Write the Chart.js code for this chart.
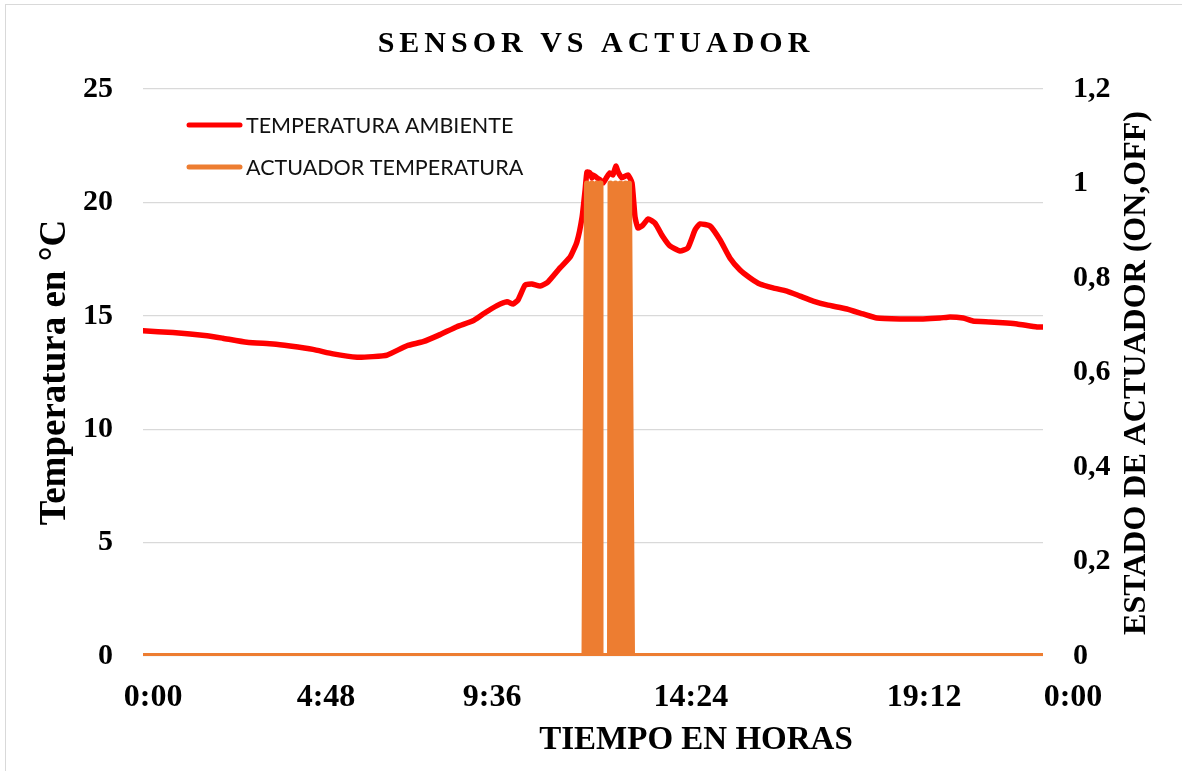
<!DOCTYPE html>
<html>
<head>
<meta charset="utf-8">
<title>Sensor vs Actuador</title>
<script src="https://cdn.jsdelivr.net/npm/chart.js@4.4.1/dist/chart.umd.min.js"></script>
<style>
    html, body { margin: 0; padding: 0; background: #fff; }
    #frame { position: relative; width: 1182px; height: 771px; }
    #frame::before {
        content: '';
        position: absolute;
        left: 5px; top: 4px; right: 0; bottom: 0;
        border-left: 1px solid #d9d9d9;
        border-top: 1px solid #d9d9d9;
        pointer-events: none;
    }
    canvas { display: block; }
</style>
</head>
<body>
<div id="frame"><canvas id="myChart" width="1182" height="771"></canvas></div>
<script>
// temperature readings (hours of the day -> °C)
const tempHours = [0, 0.80, 1.71, 2.13, 2.77, 3.47, 3.92, 4.53, 5.07, 5.71,
    6.13, 6.51, 7.04, 7.47, 7.92, 8.37, 8.80, 9.07, 9.44, 9.71,
    9.87, 10.00, 10.19, 10.37, 10.59, 10.80, 11.12, 11.39, 11.57, 11.71,
    11.79, 11.84, 11.92, 11.97, 12.00, 12.11, 12.19, 12.27, 12.37, 12.45,
    12.53, 12.61, 12.67, 12.77, 12.93, 13.04, 13.12, 13.20, 13.33, 13.47,
    13.65, 13.87, 14.05, 14.32, 14.53, 14.72, 14.85, 15.12, 15.39, 15.65,
    15.92, 16.19, 16.45, 16.80, 17.17, 17.52, 17.87, 18.24, 18.77, 19.20,
    19.57, 20.19, 20.80, 21.25, 21.52, 21.87, 22.13, 22.59, 23.04, 23.31,
    23.84, 24.00];
const tempValues = [14.34, 14.26, 14.12, 14.01, 13.83, 13.76, 13.67, 13.52, 13.32, 13.17,
    13.20, 13.27, 13.68, 13.86, 14.17, 14.52, 14.78, 15.08, 15.45, 15.62,
    15.52, 15.70, 16.36, 16.40, 16.31, 16.49, 17.11, 17.59, 18.25, 19.36,
    20.55, 21.34, 21.30, 21.08, 21.21, 21.08, 20.99, 20.86, 21.12, 21.30,
    21.21, 21.60, 21.34, 21.08, 21.21, 20.86, 19.36, 18.87, 19.00, 19.27,
    19.09, 18.47, 18.08, 17.86, 17.99, 18.78, 19.05, 18.96, 18.34, 17.55,
    17.02, 16.67, 16.40, 16.23, 16.09, 15.87, 15.65, 15.48, 15.30, 15.08,
    14.90, 14.86, 14.86, 14.90, 14.95, 14.90, 14.77, 14.73, 14.68, 14.64,
    14.51, 14.51];

// actuator state (0 = OFF, 1 = ON), switching quickly around midday
const actHours = [0, 11.773, 11.840, 11.907, 11.973, 12.040, 12.107, 12.173, 12.187, 12.200,
    12.453, 12.467, 12.533, 12.600, 12.667, 12.733, 12.800, 12.867, 12.933, 12.960,
    13.040, 24];
const actValues = [0, 0, 1, 0, 1, 0, 1, 0, 1, 0,
    0, 1, 0, 1, 0, 1, 0, 1, 0, 1,
    0, 0];

// x axis labels and where they sit (hours)
const timeTickLabels = ['0:00', '4:48', '9:36', '14:24', '19:12', '0:00'];
const timeTickHours = [0.27, 4.88, 9.31, 14.61, 20.83, 24.80];

const SERIF = '"Liberation Serif", "Times New Roman", serif';

const toPoints = (xs, ys) => xs.map((x, i) => ({ x: x, y: ys[i] }));

/**
 * Title, x axis title, right axis title and the legend box
 */
const chartTexts = {
    id: 'chartTexts',
    afterDraw(chart) {
        const ctx = chart.ctx;
        ctx.save();
        ctx.fillStyle = '#000';

        // main title
        ctx.font = 'bold 30px ' + SERIF;
        ctx.letterSpacing = '5px';
        ctx.textAlign = 'center';
        ctx.textBaseline = 'middle';
        ctx.fillText('SENSOR VS ACTUADOR', 596, 44);
        ctx.letterSpacing = '0px';

        // x axis title
        ctx.font = 'bold 33px ' + SERIF;
        ctx.fillText('TIEMPO EN HORAS', 696, 740);

        // right axis title, reading upwards
        ctx.save();
        ctx.translate(1137, 373);
        ctx.rotate(-Math.PI / 2);
        ctx.font = 'bold 32px ' + SERIF;
        ctx.fillText('ESTADO DE ACTUADOR (ON,OFF)', 0, 0);
        ctx.restore();

        // legend
        ctx.textAlign = 'left';
        ctx.font = '21.5px Lato, "Open Sans", sans-serif';
        const rows = [125, 167];
        chart.data.datasets.forEach((ds, i) => {
            const y = rows[i];
            ctx.beginPath();
            ctx.strokeStyle = ds.borderColor;
            ctx.lineWidth = 5;
            ctx.lineCap = 'round';
            ctx.moveTo(189, y);
            ctx.lineTo(240, y);
            ctx.stroke();
            ctx.fillStyle = '#111';
            ctx.fillText(ds.label, 246, y + 1);
        });
        ctx.restore();
    }
};

function loadChart()
{
    const tickFont = { family: SERIF, size: 30, weight: 'bold' };

    const chartData = {
        datasets: [
            {
                label: 'TEMPERATURA AMBIENTE',
                data: toPoints(tempHours, tempValues),
                yAxisID: 'y',
                borderColor: '#ff0000',
                borderWidth: 5.5,
                borderJoinStyle: 'round',
                borderCapStyle: 'round',
                pointRadius: 0,
                tension: 0.15,
                order: 2
            },
            {
                label: 'ACTUADOR TEMPERATURA',
                data: toPoints(actHours, actValues),
                yAxisID: 'y1',
                borderColor: '#ed7d31',
                borderWidth: 6,
                borderJoinStyle: 'round',
                borderCapStyle: 'round',
                pointRadius: 0,
                tension: 0,
                order: 1
            }]
    };

    const config = {
        type: 'line',
        data: chartData,
        options: {
            responsive: false,
            animation: false,
            layout: {
                padding: { top: 89, left: 0, right: 0, bottom: 0 }
            },
            plugins: {
                legend: { display: false },
                title: { display: false },
                tooltip: { enabled: false }
            },
            scales: {
                x: {
                    type: 'linear',
                    min: 0,
                    max: 24,
                    grid: { display: false, drawTicks: false },
                    border: { display: false },
                    afterBuildTicks: (scale) => {
                        scale.ticks = timeTickHours.map(v => ({ value: v }));
                    },
                    afterFit: (scale) => { scale.height = 115; },
                    ticks: {
                        autoSkip: false,
                        maxRotation: 0,
                        padding: 23,
                        color: '#000',
                        font: { family: SERIF, size: 32, weight: 'bold' },
                        callback: (value, index) => timeTickLabels[index]
                    }
                },
                y: {
                    position: 'left',
                    min: 0,
                    max: 25,
                    afterFit: (scale) => { scale.width = 143; },
                    grid: { color: '#d9d9d9', lineWidth: 1.3, drawTicks: false },
                    border: { display: false },
                    ticks: {
                        stepSize: 5,
                        padding: 30,
                        color: '#000',
                        font: tickFont
                    },
                    title: {
                        display: true,
                        text: 'Temperatura en °C',
                        color: '#000',
                        font: { family: SERIF, size: 37, weight: 'bold' },
                        padding: { top: 33, bottom: 0 }
                    }
                },
                y1: {
                    position: 'right',
                    min: 0,
                    max: 1.2,
                    afterFit: (scale) => { scale.width = 139; },
                    grid: { display: false, drawTicks: false },
                    border: { display: false },
                    ticks: {
                        stepSize: 0.2,
                        padding: 30,
                        color: '#000',
                        font: tickFont,
                        callback: (value) => String(Number(value.toFixed(1))).replace('.', ',')
                    }
                }
            }
        },
        plugins: [chartTexts]
    };

    const ctx = document.getElementById('myChart').getContext('2d');

    if (ctx) {
        new Chart(ctx, config);
    }
}

loadChart();
</script>
</body>
</html>
